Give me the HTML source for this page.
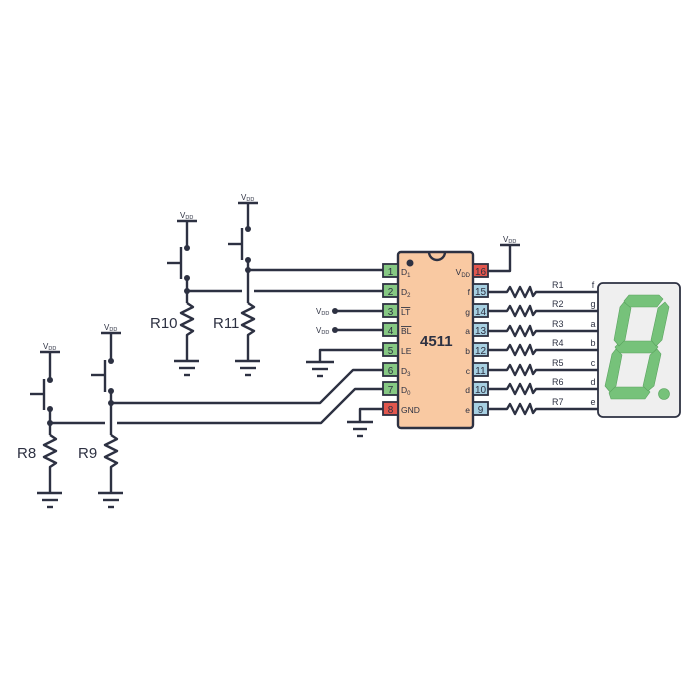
<!DOCTYPE html>
<html><head><meta charset="utf-8"><style>
html,body{margin:0;padding:0;background:#fff;width:700px;height:700px;overflow:hidden}
svg{display:block}
text{font-family:"Liberation Sans",sans-serif;fill:#2d3142}
</style></head><body>
<svg width="700" height="700" viewBox="0 0 700 700" xmlns="http://www.w3.org/2000/svg">
<g stroke="#2d3142" stroke-width="2.4" fill="none" stroke-linejoin="round">
<line x1="177" y1="221" x2="197" y2="221"/>
<line x1="187" y1="221" x2="187" y2="248"/>
<line x1="181" y1="247" x2="181" y2="279"/>
<line x1="167" y1="263" x2="181" y2="263"/>
<line x1="187" y1="278" x2="187" y2="303"/>
<polyline points="187,303 193,307 181,313 193,319 181,325 193,331 187,335 187,360"/>
<line x1="174" y1="361" x2="199" y2="361"/><line x1="179" y1="368" x2="195" y2="368"/><line x1="184" y1="375" x2="190" y2="375"/>
<line x1="238" y1="203" x2="258" y2="203"/>
<line x1="248" y1="203" x2="248" y2="229"/>
<line x1="242" y1="228" x2="242" y2="260"/>
<line x1="228" y1="244" x2="242" y2="244"/>
<line x1="248" y1="260" x2="248" y2="303"/>
<polyline points="248,303 254,307 242,313 254,319 242,325 254,331 248,335 248,360"/>
<line x1="235" y1="361" x2="260" y2="361"/><line x1="240" y1="368" x2="256" y2="368"/><line x1="245" y1="375" x2="251" y2="375"/>
<line x1="248" y1="270" x2="384" y2="270"/>
<line x1="187" y1="291" x2="242" y2="291"/>
<line x1="254" y1="291" x2="384" y2="291"/>
<line x1="40" y1="352" x2="60" y2="352"/>
<line x1="50" y1="352" x2="50" y2="380"/>
<line x1="44" y1="379" x2="44" y2="410"/>
<line x1="30" y1="394" x2="44" y2="394"/>
<line x1="50" y1="409" x2="50" y2="435"/>
<polyline points="50,435 56,439 44,445 56,451 44,457 56,463 50,467 50,492"/>
<line x1="37" y1="493" x2="62" y2="493"/><line x1="42" y1="500" x2="58" y2="500"/><line x1="47" y1="507" x2="53" y2="507"/>
<line x1="101" y1="333" x2="121" y2="333"/>
<line x1="111" y1="333" x2="111" y2="361"/>
<line x1="105" y1="360" x2="105" y2="392"/>
<line x1="91" y1="375" x2="105" y2="375"/>
<line x1="111" y1="391" x2="111" y2="435"/>
<polyline points="111,435 117,439 105,445 117,451 105,457 117,463 111,467 111,492"/>
<line x1="98" y1="493" x2="123" y2="493"/><line x1="103" y1="500" x2="119" y2="500"/><line x1="108" y1="507" x2="114" y2="507"/>
<polyline points="111,403 320,403 353,370 384,370"/>
<polyline points="50,423 105,423"/>
<polyline points="117,423 321,423 355,389 384,389"/>
<line x1="335" y1="311" x2="384" y2="311"/>
<line x1="335" y1="330" x2="384" y2="330"/>
<polyline points="384,350 320,350 320,362"/>
<line x1="306" y1="362" x2="334" y2="362"/><line x1="312" y1="369" x2="328" y2="369"/><line x1="317" y1="376" x2="323" y2="376"/>
<polyline points="384,409 360,409 360,422"/>
<line x1="347" y1="422" x2="373" y2="422"/><line x1="353" y1="429" x2="367" y2="429"/><line x1="357" y1="436" x2="363" y2="436"/>
<polyline points="488,271 510,271 510,245"/>
<line x1="500" y1="245" x2="520" y2="245"/>
<polyline points="488,292 507,292 510,287 515,297 520,287 525,297 530,287 533,296 536,292 598,292"/>
<polyline points="488,311 507,311 510,306 515,316 520,306 525,316 530,306 533,315 536,311 598,311"/>
<polyline points="488,331 507,331 510,326 515,336 520,326 525,336 530,326 533,335 536,331 598,331"/>
<polyline points="488,350 507,350 510,345 515,355 520,345 525,355 530,345 533,354 536,350 598,350"/>
<polyline points="488,370 507,370 510,365 515,375 520,365 525,375 530,365 533,374 536,370 598,370"/>
<polyline points="488,389 507,389 510,384 515,394 520,384 525,394 530,384 533,393 536,389 598,389"/>
<polyline points="488,409 507,409 510,404 515,414 520,404 525,414 530,404 533,413 536,409 598,409"/>
</g>
<g fill="#2d3142">
<circle cx="187" cy="248" r="3"/><circle cx="187" cy="278" r="3"/><circle cx="187" cy="291" r="3"/>
<circle cx="248" cy="229" r="3"/><circle cx="248" cy="260" r="3"/><circle cx="248" cy="270" r="3"/>
<circle cx="50" cy="380" r="3"/><circle cx="50" cy="409" r="3"/><circle cx="50" cy="423" r="3"/>
<circle cx="111" cy="361" r="3"/><circle cx="111" cy="391" r="3"/><circle cx="111" cy="403" r="3"/>
<circle cx="335" cy="311" r="3"/><circle cx="335" cy="330" r="3"/>
</g>
<rect x="398" y="252" width="75" height="176" rx="3" fill="#f9c9a2" stroke="#2d3142" stroke-width="2.4"/>
<path d="M429,252 a8,8 0 0 0 16,0" fill="none" stroke="#2d3142" stroke-width="2.4"/>
<circle cx="410" cy="263" r="3.5" fill="#2d3142"/>
<g stroke="#2d3142" stroke-width="1.8">
<rect x="383" y="264" width="15" height="13" fill="#86c883"/>
<rect x="383" y="284" width="15" height="13" fill="#86c883"/>
<rect x="383" y="304" width="15" height="13" fill="#86c883"/>
<rect x="383" y="323" width="15" height="13" fill="#86c883"/>
<rect x="383" y="343" width="15" height="13" fill="#86c883"/>
<rect x="383" y="363" width="15" height="13" fill="#86c883"/>
<rect x="383" y="382" width="15" height="13" fill="#86c883"/>
<rect x="383" y="402" width="15" height="13" fill="#e2574e"/>
<rect x="473" y="264" width="15" height="13" fill="#e2574e"/>
<rect x="473" y="284" width="15" height="13" fill="#a7d0e2"/>
<rect x="473" y="304" width="15" height="13" fill="#a7d0e2"/>
<rect x="473" y="323" width="15" height="13" fill="#a7d0e2"/>
<rect x="473" y="343" width="15" height="13" fill="#a7d0e2"/>
<rect x="473" y="363" width="15" height="13" fill="#a7d0e2"/>
<rect x="473" y="382" width="15" height="13" fill="#a7d0e2"/>
<rect x="473" y="402" width="15" height="13" fill="#a7d0e2"/>
</g>
<g font-size="10" text-anchor="middle">
<text x="390.5" y="275">1</text><text x="390.5" y="295">2</text><text x="390.5" y="315">3</text><text x="390.5" y="334">4</text>
<text x="390.5" y="354">5</text><text x="390.5" y="374">6</text><text x="390.5" y="393">7</text><text x="390.5" y="413">8</text>
<text x="480.5" y="275">16</text><text x="480.5" y="295">15</text><text x="480.5" y="315">14</text><text x="480.5" y="334">13</text>
<text x="480.5" y="354">12</text><text x="480.5" y="374">11</text><text x="480.5" y="393">10</text><text x="480.5" y="413">9</text>
</g>
<g font-size="8.5">
<text x="401" y="275">D<tspan font-size="6" dy="2">1</tspan></text>
<text x="401" y="295">D<tspan font-size="6" dy="2">2</tspan></text>
<text x="401" y="315" text-decoration="overline">LT</text>
<text x="401" y="334" text-decoration="overline">BL</text>
<text x="401" y="354">LE</text>
<text x="401" y="374">D<tspan font-size="6" dy="2">3</tspan></text>
<text x="401" y="393">D<tspan font-size="6" dy="2">0</tspan></text>
<text x="401" y="413">GND</text>
</g>
<g font-size="8.5" text-anchor="end">
<text x="470" y="275">V<tspan font-size="6" dy="2">DD</tspan></text>
<text x="470" y="295">f</text><text x="470" y="315">g</text><text x="470" y="334">a</text><text x="470" y="354">b</text>
<text x="470" y="374">c</text><text x="470" y="393">d</text><text x="470" y="413">e</text>
</g>
<text x="420" y="346" font-size="15" font-weight="bold">4511</text>
<g font-size="8">
<text x="180" y="218">V<tspan font-size="5.5" dy="1">DD</tspan></text>
<text x="241" y="200">V<tspan font-size="5.5" dy="1">DD</tspan></text>
<text x="43" y="349">V<tspan font-size="5.5" dy="1">DD</tspan></text>
<text x="104" y="330">V<tspan font-size="5.5" dy="1">DD</tspan></text>
<text x="503" y="242">V<tspan font-size="5.5" dy="1">DD</tspan></text>
<text x="316" y="314">V<tspan font-size="5.5" dy="1">DD</tspan></text>
<text x="316" y="333">V<tspan font-size="5.5" dy="1">DD</tspan></text>
</g>
<g font-size="15">
<text x="150" y="328">R10</text><text x="213" y="328">R11</text>
<text x="17" y="458">R8</text><text x="78" y="458">R9</text>
</g>
<g font-size="9">
<text x="552" y="288">R1</text><text x="552" y="307">R2</text><text x="552" y="327">R3</text><text x="552" y="346">R4</text>
<text x="552" y="366">R5</text><text x="552" y="385">R6</text><text x="552" y="405">R7</text>
</g>
<g font-size="9" text-anchor="middle">
<text x="593" y="288">f</text><text x="593" y="307">g</text><text x="593" y="327">a</text><text x="593" y="346">b</text>
<text x="593" y="366">c</text><text x="593" y="385">d</text><text x="593" y="405">e</text>
</g>
<rect x="598" y="283" width="82" height="134" rx="5" fill="#efefef" stroke="#2d3142" stroke-width="1.8"/>
<g fill="#76c27a" stroke="#5aa35f" stroke-width="0.6">
<polygon points="629,295 659,295 663,299 657,307 628,307 624,301"/>
<polygon points="621,341 653,341 658,347 653,353 619,353 615,347"/>
<polygon points="614,387 646,387 650,392 645,399 611,399 609,393"/>
<polygon points="624,302 631,308 625,340 619,346 614,340 620,307"/>
<polygon points="665,302 669,307 662,340 656,346 651,340 658,308"/>
<polygon points="616,349 622,355 616,386 610,392 605,386 612,354"/>
<polygon points="657,349 661,354 654,386 648,391 643,386 650,355"/>
<circle cx="664" cy="394" r="5.5"/>
</g>
</svg>
</body></html>
